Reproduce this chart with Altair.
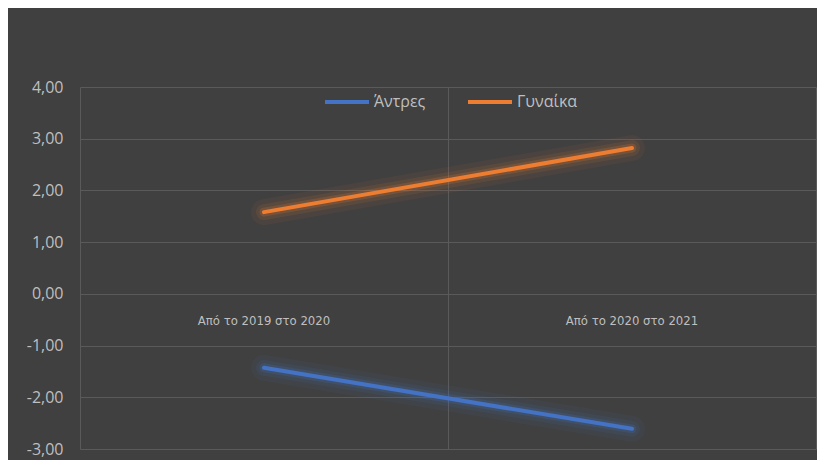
import altair as alt
import pandas as pd

periods = ["Από το 2019 στο 2020", "Από το 2020 στο 2021"]
men = [-1.43, -2.61]
women = [1.58, 2.82]
series_names = ["Άντρες", "Γυναίκα"]
series_colors = ["#4472C4", "#ED7D31"]
y_ticks = [-3, -2, -1, 0, 1, 2, 3, 4]

rows = []
for name, vals in zip(series_names, [men, women]):
    for p, v in zip(periods, vals):
        rows.append({"period": p, "series": name, "value": v})
df = pd.DataFrame(rows)
labels_df = pd.DataFrame({"period": periods})

LABEL_COLOR = "#bfbfbf"
GRID = "#5a5a5a"

x_enc = alt.X(
    "period:N",
    sort=periods,
    scale=alt.Scale(type="band", paddingInner=0, paddingOuter=0),
    axis=alt.Axis(title=None, labels=False, ticks=False, domain=False,
                  grid=True, tickBand="extent", gridColor=GRID, gridWidth=1),
)
y_enc = alt.Y(
    "value:Q",
    scale=alt.Scale(domain=[-3, 4], nice=False, zero=False),
    axis=alt.Axis(
        title=None, values=y_ticks, domain=False, ticks=False, tickSize=0,
        labelPadding=17, gridColor=GRID, gridWidth=1,
        labelExpr="replace(replace(format(datum.value, '.2f'), '.', ','), '\u2212', '-')",
        labelFont="Open Sans", labelFontSize=16, labelColor=LABEL_COLOR,
    ),
)
color_scale = alt.Scale(domain=series_names, range=series_colors)
legend = alt.Legend(
    title=None, orient="none", legendX=243, legendY=-9,
    direction="horizontal", symbolType="stroke", symbolSize=1936,
    symbolStrokeWidth=4, symbolOpacity=1, labelFont="Open Sans",
    labelFontSize=16, labelColor=LABEL_COLOR, columnPadding=34,
    labelOffset=3, padding=0,
)
color_enc = alt.Color("series:N", scale=color_scale, sort=series_names, legend=legend)

base = alt.Chart(df)

glow0 = base.mark_line(strokeWidth=26, opacity=0.06, strokeCap="round").encode(
    x=x_enc, y=y_enc, color=color_enc)
glow1 = base.mark_line(strokeWidth=16, opacity=0.10, strokeCap="round").encode(
    x=x_enc, y=y_enc, color=color_enc)
glow2 = base.mark_line(strokeWidth=9, opacity=0.18, strokeCap="round").encode(
    x=x_enc, y=y_enc, color=color_enc)
main = base.mark_line(strokeWidth=4, strokeCap="round").encode(
    x=x_enc, y=y_enc, color=color_enc)

cat_labels = alt.Chart(labels_df).mark_text(
    dy=27, fontSize=13, color=LABEL_COLOR,
    font="Liberation Sans Narrow, DejaVu Sans Condensed, Open Sans",
    baseline="middle", align="center",
).encode(x=x_enc, y=alt.Y(datum=0), text="period:N")

chart = (
    alt.layer(glow0, glow1, glow2, main, cat_labels)
    .properties(
        width=736, height=362,
        padding={"left": 72, "top": 79, "right": 1, "bottom": 11},
        autosize=alt.AutoSizeParams(type="none"),
        background="#404040",
    )
    .configure_view(stroke=None)
)

chart.save("out.html", embed_options={"renderer": "svg", "actions": False})
